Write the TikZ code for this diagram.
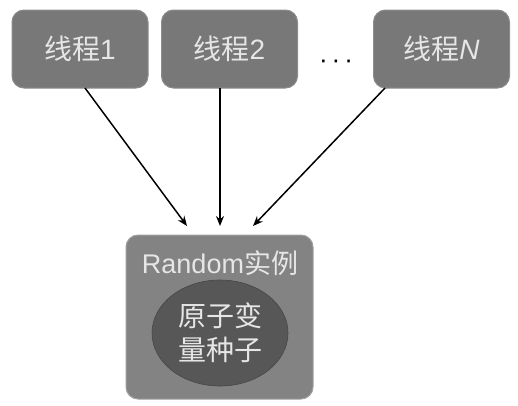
\documentclass[tikz,border=0pt]{standalone}
\usepackage{fontspec}
\setmainfont{Liberation Sans}
\newfontfamily\cjk{Noto Sans CJK SC}
\usetikzlibrary{arrows.meta,shapes.geometric}
\definecolor{boxgray}{HTML}{787878}
\definecolor{txtgray}{HTML}{E6E6E6}
\definecolor{ellgray}{HTML}{575757}
\definecolor{outgray}{HTML}{838383}
\begin{document}
\begin{tikzpicture}[x=1pt,y=-1pt,
  thread/.style={draw=boxgray!85!white, line width=1pt, fill=boxgray, rounded corners=12pt,
    minimum width=136pt, minimum height=78pt, text=txtgray, font=\fontsize{28}{32}\selectfont\cjk},
  arr/.style={-{Stealth[length=10pt,width=8pt]}, line width=1.5pt, black}]
\useasboundingbox (0,0) rectangle (518,405);
\node[thread] (t1) at (80,49) {线程\fontspec{Liberation Sans}1};
\node[thread] (t2) at (229.5,49) {线程\fontspec{Liberation Sans}2};
\node[thread] (tn) at (441.5,49) {线程\fontspec{Liberation Sans}\itshape N};
\node[font=\fontsize{26}{30}\selectfont] (dots) at (336,64) {·\hspace{4pt}·\hspace{4pt}·};
\node[draw=boxgray!70!white, line width=1pt, fill=outgray, rounded corners=12pt,
  minimum width=187pt, minimum height=164pt] (rnd) at (219.5,317) {};
\node[text=txtgray, font=\fontsize{27}{30}\selectfont] (lbl) at (220,263) {Random{\cjk 实例}};
\node[draw=ellgray!80!black, line width=0.6pt, fill=ellgray, ellipse, minimum width=136pt, minimum height=106pt,
  text=txtgray, align=center, font=\fontsize{28}{34}\selectfont\cjk, inner sep=0pt] (seed) at (220,333) {原子变\\量种子};
\coordinate (s1) at (85,88);
\coordinate (s2) at (220,88);
\coordinate (s3) at (385,88);
\coordinate (a1) at (187,226);
\coordinate (a2) at (220,226);
\coordinate (a3) at (253,226);
\draw[arr] (s1) -- (a1);
\draw[arr] (s2) -- (a2);
\draw[arr] (s3) -- (a3);
\end{tikzpicture}
\end{document}
